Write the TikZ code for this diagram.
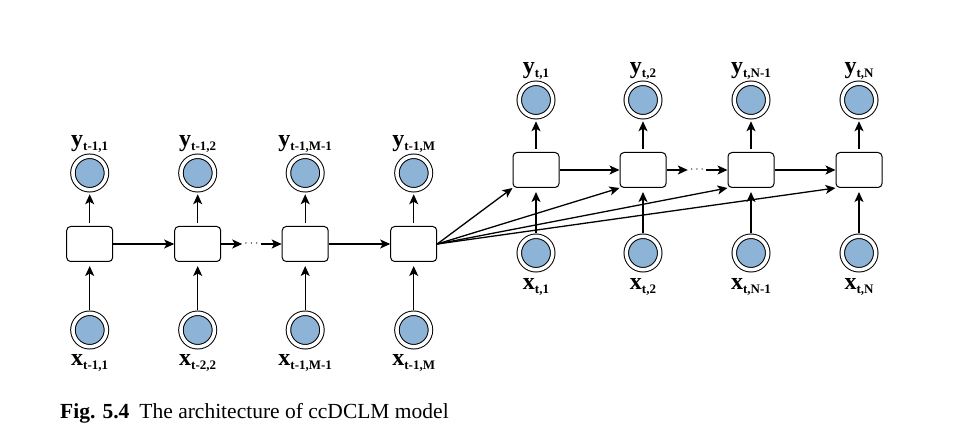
\documentclass[tikz,border=0pt]{standalone}
\usepackage{fontspec}
\setmainfont{Liberation Serif}
\usetikzlibrary{positioning,arrows.meta}
\definecolor{unitblue}{RGB}{141,179,214}
\newcommand{\seqlab}[2]{\bfseries{\fontsize{24}{24}\selectfont #1}\raisebox{-4.5pt}{\fontsize{13}{13}\selectfont #2}}

\tikzset{
  cell/.style={draw, rounded corners=4pt, minimum width=46pt, minimum height=35pt, line width=1pt, fill=white},
  unit/.style={circle, draw, fill=unitblue, double, double distance=3.5pt, minimum size=33.5pt, line width=1pt, inner sep=0pt},
  flow/.style={-{Stealth[length=10pt,width=9pt,inset=2.5pt]}, line width=1.3pt},
  feed/.style={flow, shorten <=3pt, shorten >=4pt}
}

\begin{document}
\begin{tikzpicture}[x=1pt,y=-1pt,on grid,inner sep=2pt,label distance=1pt]
  \useasboundingbox (0,0) rectangle (966,446);

  \node[cell] (h1) at (89.7,244) {};
  \node[cell, right=108pt of h1] (h2) {};
  \node[cell, right=107.5pt of h2] (h3) {};
  \node[cell, right=108.5pt of h3] (h4) {};
  \node[right=53.75pt of h2, font=\fontsize{13}{13}\selectfont] (hd) {$\cdots$};

  \node[unit, above=71pt of h1, label=above:{\seqlab{y}{t-1,1}}] (y1) {};
  \node[unit, above=71pt of h2, label=above:{\seqlab{y}{t-1,2}}] (y2) {};
  \node[unit, above=71pt of h3, label=above:{\seqlab{y}{t-1,M-1}}] (y3) {};
  \node[unit, above=71pt of h4, label=above:{\seqlab{y}{t-1,M}}] (y4) {};
  \node[unit, below=86pt of h1, label={[label distance=5pt]below:{\seqlab{x}{t-1,1}}}] (x1) {};
  \node[unit, below=86pt of h2, label={[label distance=5pt]below:{\seqlab{x}{t-2,2}}}] (x2) {};
  \node[unit, below=86pt of h3, label={[label distance=5pt]below:{\seqlab{x}{t-1,M-1}}}] (x3) {};
  \node[unit, below=86pt of h4, label={[label distance=5pt]below:{\seqlab{x}{t-1,M}}}] (x4) {};

  \node[cell] (s1) at (536,170) {};
  \node[cell, right=107pt of s1] (s2) {};
  \node[cell, right=108pt of s2] (s3) {};
  \node[cell, right=108pt of s3] (s4) {};
  \node[right=54pt of s2, font=\fontsize{13}{13}\selectfont] (sd) {$\cdots$};

  \node[unit, above=70pt of s1, label=above:{\seqlab{y}{t,1}}] (v1) {};
  \node[unit, above=70pt of s2, label=above:{\seqlab{y}{t,2}}] (v2) {};
  \node[unit, above=70pt of s3, label=above:{\seqlab{y}{t,N-1}}] (v3) {};
  \node[unit, above=70pt of s4, label=above:{\seqlab{y}{t,N}}] (v4) {};
  \node[unit, below=83pt of s1, label={[label distance=6pt]below:{\seqlab{x}{t,1}}}] (u1) {};
  \node[unit, below=83pt of s2, label={[label distance=6pt]below:{\seqlab{x}{t,2}}}] (u2) {};
  \node[unit, below=83pt of s3, label={[label distance=6pt]below:{\seqlab{x}{t,N-1}}}] (u3) {};
  \node[unit, below=83pt of s4, label={[label distance=6pt]below:{\seqlab{x}{t,N}}}] (u4) {};

  \draw[flow] (h1) -- (h2);
  \draw[flow] (h2) -- (hd);
  \draw[flow] (hd) -- (h3);
  \draw[flow] (h3) -- (h4);
  \draw[flow] (s1) -- (s2);
  \draw[flow] (s2) -- (sd);
  \draw[flow] (sd) -- (s3);
  \draw[flow] (s3) -- (s4);

  \draw[feed] (x1) -- (h1);
  \draw[feed] (x2) -- (h2);
  \draw[feed] (x3) -- (h3);
  \draw[feed] (x4) -- (h4);
  \draw[feed] (h1) -- (y1);
  \draw[feed] (h2) -- (y2);
  \draw[feed] (h3) -- (y3);
  \draw[feed] (h4) -- (y4);
  \draw[feed] (u1) -- (s1);
  \draw[feed] (u2) -- (s2);
  \draw[feed] (u3) -- (s3);
  \draw[feed] (u4) -- (s4);
  \draw[feed] (s1) -- (v1);
  \draw[feed] (s2) -- (v2);
  \draw[feed] (s3) -- (v3);
  \draw[feed] (s4) -- (v4);

  \draw[flow] (h4.east) -- (s1.south west);
  \draw[flow] (h4.east) -- (s2.south west);
  \draw[flow] (h4.east) -- (s3.south west);
  \draw[flow] (h4.east) -- (s4.south west);

  \node[anchor=base west, inner sep=0pt, font=\fontsize{21.5}{21.5}\selectfont] (cap) at (60,418)
    {\textbf{Fig. 5.4}\hspace{10pt}The architecture of ccDCLM model};
\end{tikzpicture}
\end{document}
